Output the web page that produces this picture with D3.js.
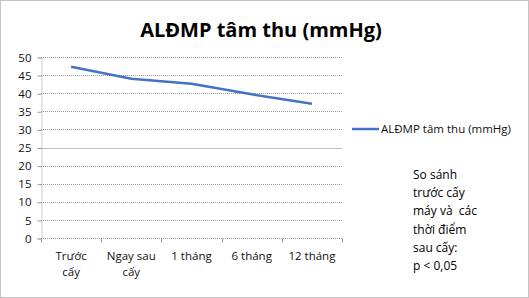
<!DOCTYPE html>
<html>
<head>
<meta charset="utf-8">
<script src="https://cdn.jsdelivr.net/npm/d3@7/dist/d3.min.js"></script>
<style>
html,body{margin:0;padding:0;background:#fff;}
text{font-family:"Open Sans","DejaVu Sans",sans-serif;}
</style>
</head>
<body>
<svg id="chart" width="529" height="298"></svg>
<script>
//số liệu biểu đồ
var categories=[["Trước","cấy"],["Ngay sau","cấy"],["1 tháng"],["6 tháng"],["12 tháng"]];
var values=[47.3,44.0,42.6,39.7,37.1];
var yTicks=[0,5,10,15,20,25,30,35,40,45,50];
var seriesName="ALĐMP tâm thu (mmHg)";
var noteLines=["So sánh","trước cấy","máy và  các","thời điểm","sau cấy:","p < 0,05"];

var svg=d3.select("#chart");
var plotL=41,plotR=342,plotT=57,plotB=238;

svg.append("rect").attr("x",0.5).attr("y",0.5).attr("width",528).attr("height",297)
	.attr("fill","#fff").attr("stroke","#888").attr("stroke-dasharray","1,1");

svg.append("text").attr("x",261).attr("y",37).attr("text-anchor","middle")
	.attr("font-size",20).attr("font-weight","bold").attr("fill","#000").text("ALĐMP tâm thu (mmHg)");

var x=d3.scaleBand().domain(d3.range(categories.length)).range([plotL,plotR]);
var y=d3.scaleLinear().domain([0,50]).range([plotB,plotT]);

/*lưới ngang*/
svg.selectAll(".grid").data(yTicks).enter().append("line").attr("class","grid")
	.attr("x1",plotL).attr("x2",plotR)
	.attr("y1",function(d){return Math.round(y(d))+0.5;})
	.attr("y2",function(d){return Math.round(y(d))+0.5;})
	.attr("stroke",function(d){return d==25?"#c0c0c0":"#999";})
	.attr("stroke-dasharray",function(d){return d==25?null:"1,1";});

/*trục y*/
var yAxis=svg.append("g").attr("transform","translate("+(plotL+0.5)+",0.5)")
	.call(d3.axisLeft(y).tickValues(yTicks).tickSize(4).tickPadding(6));
yAxis.select(".domain").attr("stroke","#999").attr("stroke-dasharray","1,1");
yAxis.selectAll(".tick line").attr("stroke","#999");
yAxis.selectAll("text").attr("font-size",11.5).attr("fill","#111")
	.attr("font-family","\"Open Sans\",sans-serif");

/*trục x*/
var xAxis=svg.append("g").attr("transform","translate(0,"+(Math.round(plotB)+0.5)+")");
xAxis.append("line").attr("x1",plotL).attr("x2",plotR).attr("stroke","#999").attr("stroke-dasharray","1,1");
xAxis.selectAll(".xt").data(d3.range(categories.length+1)).enter().append("line")
	.attr("x1",function(i){return Math.round(plotL+i*x.step())+0.5;})
	.attr("x2",function(i){return Math.round(plotL+i*x.step())+0.5;})
	.attr("y1",0).attr("y2",4).attr("stroke","#999");
xAxis.selectAll(".xl").data(categories).enter().append("text")
	.attr("text-anchor","middle").attr("font-size",11.5).attr("fill","#111")
	.attr("transform",function(d,i){return "translate("+(x(i)+x.bandwidth()/2)+",21)";})
	.each(function(d){
		var t=d3.select(this);
		d.forEach(function(s,k){t.append("tspan").attr("x",0).attr("dy",k==0?0:16).text(s);});
	});

/*đường dữ liệu*/
var line=d3.line().x(function(d,i){return x(i)+x.bandwidth()/2;}).y(function(d){return y(d);});
svg.append("path").datum(values).attr("d",line).attr("fill","none")
	.attr("stroke","#4472C4").attr("stroke-width",2.5);

/*chú thích*/
svg.append("line").attr("x1",352).attr("x2",379).attr("y1",129).attr("y2",129)
	.attr("stroke","#4472C4").attr("stroke-width",2.5);
svg.append("text").attr("x",381).attr("y",133).attr("font-size",11.5).attr("fill","#111").text(seriesName);

svg.append("text").attr("font-size",12).attr("fill","#000")
	.selectAll("tspan").data(noteLines).enter().append("tspan")
	.attr("x",413).attr("y",function(d,i){return 179+i*18.2;})
	.style("white-space","pre").text(function(d){return d;});
</script>
</body>
</html>
